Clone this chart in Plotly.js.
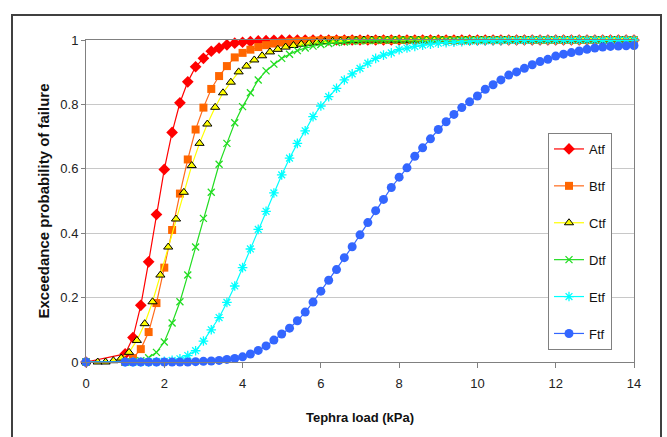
<!DOCTYPE html>
<html>
<head>
<meta charset="utf-8">
<script src="https://cdn.plot.ly/plotly-3.0.1.min.js"></script>
<style>
  html, body { margin: 0; padding: 0; background: #ffffff; }
  #wrap { position: relative; width: 667px; height: 437px; overflow: hidden; }
  #frame { position: absolute; left: 11px; top: 14px; width: 651px; height: 440px; border: 2px solid #404040; box-sizing: border-box; }
  #chart { position: absolute; left: 0; top: 0; width: 667px; height: 437px; }
</style>
</head>
<body>
<div id="wrap">
  <div id="frame"></div>
  <div id="chart"></div>
</div>
<script>
// Tephra load (kPa) sample points
const xLoad = [0, 1, 1.2, 1.4, 1.6, 1.8, 2, 2.2, 2.4, 2.6, 2.8, 3, 3.2, 3.4, 3.6, 3.8, 4, 4.2, 4.4, 4.6, 4.8,
  5, 5.2, 5.4, 5.6, 5.8, 6, 6.2, 6.4, 6.6, 6.8, 7, 7.2, 7.4, 7.6, 7.8, 8, 8.2, 8.4, 8.6, 8.8,
  9, 9.2, 9.4, 9.6, 9.8, 10, 10.2, 10.4, 10.6, 10.8, 11, 11.2, 11.4, 11.6, 11.8, 12, 12.2, 12.4, 12.6, 12.8,
  13, 13.2, 13.4, 13.6, 13.8, 14];
const xLoadC = [0, 0.3, 0.5, 0.7, 0.9, 1.1, 1.3, 1.5, 1.7, 1.9, 2.1, 2.3, 2.5, 2.7, 2.9, 3.1, 3.3, 3.5, 3.7, 3.9,
  4.1, 4.3, 4.5, 4.7, 4.9, 5.1, 5.3, 5.5, 5.7, 5.9, 6.1, 6.3, 6.5, 6.7, 6.9, 7.1, 7.3, 7.5, 7.7, 7.9,
  8.1, 8.3, 8.5, 8.7, 8.9, 9.1, 9.3, 9.5, 9.7, 9.9, 10.1, 10.3, 10.5, 10.7, 10.9, 11.1, 11.3, 11.5, 11.7, 11.9,
  12.1, 12.3, 12.5, 12.7, 12.9, 13.1, 13.3, 13.5, 13.7, 13.9];

const seriesNames = ["Atf", "Btf", "Ctf", "Dtf", "Etf", "Ftf"];

const atf = [0, 0.025, 0.076, 0.176, 0.311, 0.458, 0.598, 0.713, 0.805, 0.870, 0.917, 0.943, 0.965, 0.975, 0.985, 0.990,
  0.993, 0.995, 0.997, 0.998, 0.999, 1, 1, 1, 1, 1, 1, 1, 1, 1, 1, 1, 1, 1, 1, 1, 1, 1, 1, 1, 1,
  1, 1, 1, 1, 1, 1, 1, 1, 1, 1, 1, 1, 1, 1, 1, 1, 1, 1, 1, 1, 1, 1, 1, 1, 1, 1];
const btf = [0, 0, 0.012, 0.040, 0.093, 0.183, 0.293, 0.410, 0.523, 0.629, 0.722, 0.790, 0.848, 0.888, 0.919, 0.946,
  0.960, 0.970, 0.978, 0.984, 0.989, 0.992, 0.994, 0.996, 0.997, 0.998, 0.999, 1, 1, 1, 1, 1, 1, 1, 1, 1, 1, 1, 1, 1, 1,
  1, 1, 1, 1, 1, 1, 1, 1, 1, 1, 1, 1, 1, 1, 1, 1, 1, 1, 1, 1, 1, 1, 1, 1, 1, 1];
const ctf = [0, 0, 0, 0.004, 0.012, 0.030, 0.067, 0.119, 0.187, 0.270, 0.357, 0.444, 0.527, 0.610, 0.679, 0.739, 0.791,
  0.836, 0.869, 0.901, 0.919, 0.938, 0.951, 0.963, 0.971, 0.978, 0.983, 0.987, 0.990, 0.993, 0.995, 0.996, 0.997,
  0.998, 0.999, 1, 1, 1, 1, 1, 1, 1, 1, 1, 1, 1, 1, 1, 1, 1, 1, 1, 1, 1, 1, 1, 1, 1, 1, 1, 1, 1, 1, 1, 1, 1, 1, 1, 1, 1];
const dtf = [0, 0, 0.001, 0.004, 0.013, 0.030, 0.062, 0.121, 0.187, 0.270, 0.357, 0.446, 0.527, 0.614, 0.679, 0.743,
  0.793, 0.836, 0.876, 0.904, 0.925, 0.943, 0.956, 0.967, 0.975, 0.981, 0.986, 0.989, 0.992, 0.994, 0.996, 0.997,
  0.998, 0.998, 0.999, 1, 1, 1, 1, 1, 1, 1, 1, 1, 1, 1, 1, 1, 1, 1, 1, 1, 1, 1, 1, 1, 1, 1, 1, 1, 1, 1, 1, 1, 1, 1, 1];
const etf = [0, 0, 0, 0, 0, 0.001, 0.002, 0.005, 0.010, 0.020, 0.035, 0.065, 0.100, 0.138, 0.185, 0.236, 0.293, 0.351,
  0.412, 0.468, 0.525, 0.581, 0.633, 0.679, 0.718, 0.762, 0.795, 0.824, 0.850, 0.876, 0.895, 0.912, 0.928, 0.943,
  0.953, 0.960, 0.970, 0.975, 0.980, 0.984, 0.987, 0.990, 0.992, 0.993, 0.995, 0.996, 0.997, 0.997, 0.998, 0.998,
  0.999, 0.999, 0.999, 1, 1, 1, 1, 1, 1, 1, 1, 1, 1, 1, 1, 1, 1];
const ftf = [0, 0, 0, 0, 0, 0, 0, 0, 0, 0, 0.001, 0.002, 0.003, 0.005, 0.008, 0.011, 0.016, 0.025, 0.036, 0.050, 0.068,
  0.087, 0.105, 0.128, 0.155, 0.186, 0.220, 0.254, 0.287, 0.324, 0.358, 0.395, 0.433, 0.470, 0.505, 0.542, 0.574,
  0.603, 0.639, 0.665, 0.693, 0.722, 0.746, 0.769, 0.790, 0.808, 0.826, 0.847, 0.861, 0.876, 0.891, 0.901, 0.912,
  0.923, 0.933, 0.940, 0.950, 0.956, 0.961, 0.966, 0.971, 0.975, 0.978, 0.980, 0.981, 0.982, 0.983];

const xTickVals = [0, 2, 4, 6, 8, 10, 12, 14];
const yTickVals = [0, 0.2, 0.4, 0.6, 0.8, 1];
const yTickText = ["0", "0.2", "0.4", "0.6", "0.8", "1"];

const FONT = "'Liberation Sans', Arial, sans-serif";

function tr(name, x, y, color, marker, gi) {
  return {
    type: "scatter", mode: "lines+markers", name: name, x: x, y: y,
    line: { color: color, width: 1.2 },
    marker: marker, cliponaxis: false, legendgroup: "g" + gi
  };
}

const data = [
  tr(seriesNames[0], xLoad, atf, "#ff0000", { symbol: "diamond", size: 9, color: "#ff0000" }, 0),
  tr(seriesNames[1], xLoad, btf, "#ff6a1a", { symbol: "square", size: 8, color: "#ff6600" }, 1),
  tr(seriesNames[2], xLoadC, ctf, "#ffff00", { symbol: "triangle-up", size: 8, color: "#ffff00", line: { color: "#000000", width: 1 } }, 2),
  tr(seriesNames[3], xLoad, dtf, "#22dd22", { symbol: "x-thin-open", size: 7, color: "#22dd22", line: { color: "#22dd22", width: 1.3 } }, 3),
  tr(seriesNames[4], xLoad, etf, "#00ffff", { symbol: "asterisk-open", size: 8, color: "#00ffff", line: { color: "#00ffff", width: 1.3 } }, 4),
  tr(seriesNames[5], xLoad, ftf, "#3366ff", { symbol: "circle", size: 9, color: "#3366ff" }, 5)
];

const pw = 667 - 86 - 33, ph = 437 - 40 - 75;

const layout = {
  width: 667, height: 437,
  margin: { l: 86, r: 33, t: 40, b: 75 },
  paper_bgcolor: "rgba(0,0,0,0)",
  plot_bgcolor: "#ffffff",
  font: { family: FONT, color: "#222222", size: 12 },
  showlegend: true,
  legend: {
    x: (548 - 86) / pw, y: 1 - (133 - 40) / ph, xanchor: "left", yanchor: "top",
    bgcolor: "#ffffff", bordercolor: "#808080", borderwidth: 1,
    font: { family: FONT, size: 13, color: "#111111" },
    tracegroupgap: 17, itemwidth: 30
  },
  xaxis: {
    range: [0, 14], tickvals: xTickVals, ticktext: xTickVals.map(String),
    showgrid: false, zeroline: false,
    showline: true, linecolor: "#808080", linewidth: 1, mirror: true,
    ticks: "outside", ticklen: 5, tickcolor: "#808080", ticklabelstandoff: 4,
    tickfont: { family: FONT, size: 13, color: "#222222" },
    title: { text: "Tephra load (kPa)", font: { family: FONT, size: 13, color: "#111111", weight: "bold" }, standoff: 23 }
  },
  yaxis: {
    range: [0, 1], tickvals: yTickVals, ticktext: yTickText,
    showgrid: true, gridcolor: "#c8c8c8", gridwidth: 1, zeroline: false,
    showline: true, linecolor: "#808080", linewidth: 1, mirror: true,
    ticks: "outside", ticklen: 4, tickcolor: "#808080",
    tickfont: { family: FONT, size: 13, color: "#222222" },
    title: { text: "Exceedance probability of failure", font: { family: FONT, size: 15, color: "#111111", weight: "bold" }, standoff: 7 }
  }
};

Plotly.newPlot("chart", data, layout, { displayModeBar: false, staticPlot: true });
</script>
</body>
</html>
